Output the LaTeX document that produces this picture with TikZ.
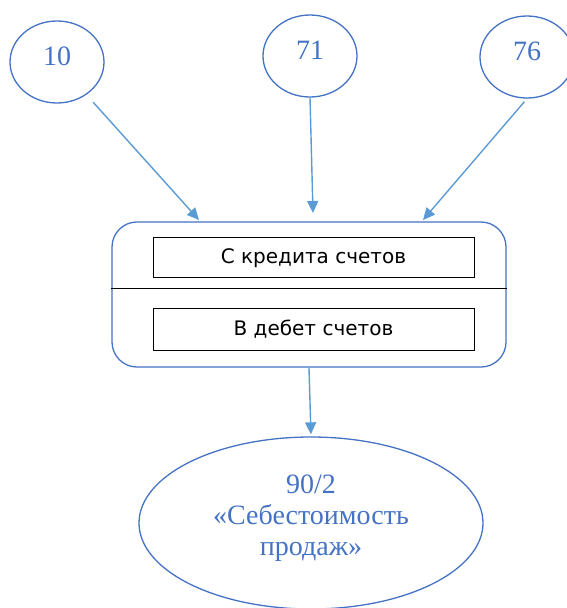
\documentclass[tikz,border=0pt]{standalone}
\usepackage{fontspec}
\setmainfont{Liberation Serif}
\newfontfamily\boxfont{DejaVu Sans}
\usetikzlibrary{shapes.geometric,arrows.meta}

\definecolor{acctblue}{RGB}{68,114,196}
\definecolor{flowblue}{RGB}{91,155,213}

\tikzset{
  accttext/.style={text=acctblue, font=\fontsize{28}{31}\selectfont},
  acct/.style={ellipse, draw=acctblue, line width=1.3pt, accttext,
    minimum width=94pt, minimum height=82pt, inner sep=0pt},
  entry/.style={draw=black, line width=1pt, minimum width=321pt,
    font=\boxfont\fontsize{20}{24}\selectfont},
  flow/.style={draw=flowblue, line width=1.4pt,
    -{Triangle[length=12pt,width=11pt]}},
}

\begin{document}
\begin{tikzpicture}[x=1pt,y=-1pt]
  \useasboundingbox (0,0) rectangle (566,608);

  % accounts credited
  \node[acct, text depth=11pt] (c10) at (57,62) {10};
  \node[acct, text depth=11pt] (c71) at (310,56) {71};
  \node[acct, text depth=11pt] (c76) at (527,57) {76};

  % posting panel
  \node[draw=acctblue, line width=1.3pt, rounded corners=25pt,
    minimum width=394pt, minimum height=145pt] (panel) at (309,294.5) {};
  \draw[line width=1pt] (panel.west |- 0,288) -- (panel.east |- 0,288);
  \node[entry, minimum height=40pt, text height=17pt] (credit) at (313.5,257) {С кредита счетов};
  \node[entry, minimum height=42pt] (debit) at (313.5,329) {В дебет счетов};

  % cost of sales
  \node[acct, minimum width=344pt, minimum height=172pt] (sale) at (311,523) {};
  \node[accttext, align=center] (saletitle) at ([yshift=5pt]sale.center)
    {90/2\\«Себестоимость\\продаж»};

  % arrows into the panel
  \coordinate (in10) at (199,220);
  \coordinate (in71) at (313,213);
  \coordinate (in76) at (423,220);
  \draw[flow, shorten <=10pt] (c10) -- (in10);
  \draw[flow] (c71.south) -- (in71);
  \draw[flow, shorten <=4pt] (c76.south) -- (in76);
  \draw[flow, shorten >=2pt] (panel.south) -- (sale.north);

\end{tikzpicture}
\end{document}
